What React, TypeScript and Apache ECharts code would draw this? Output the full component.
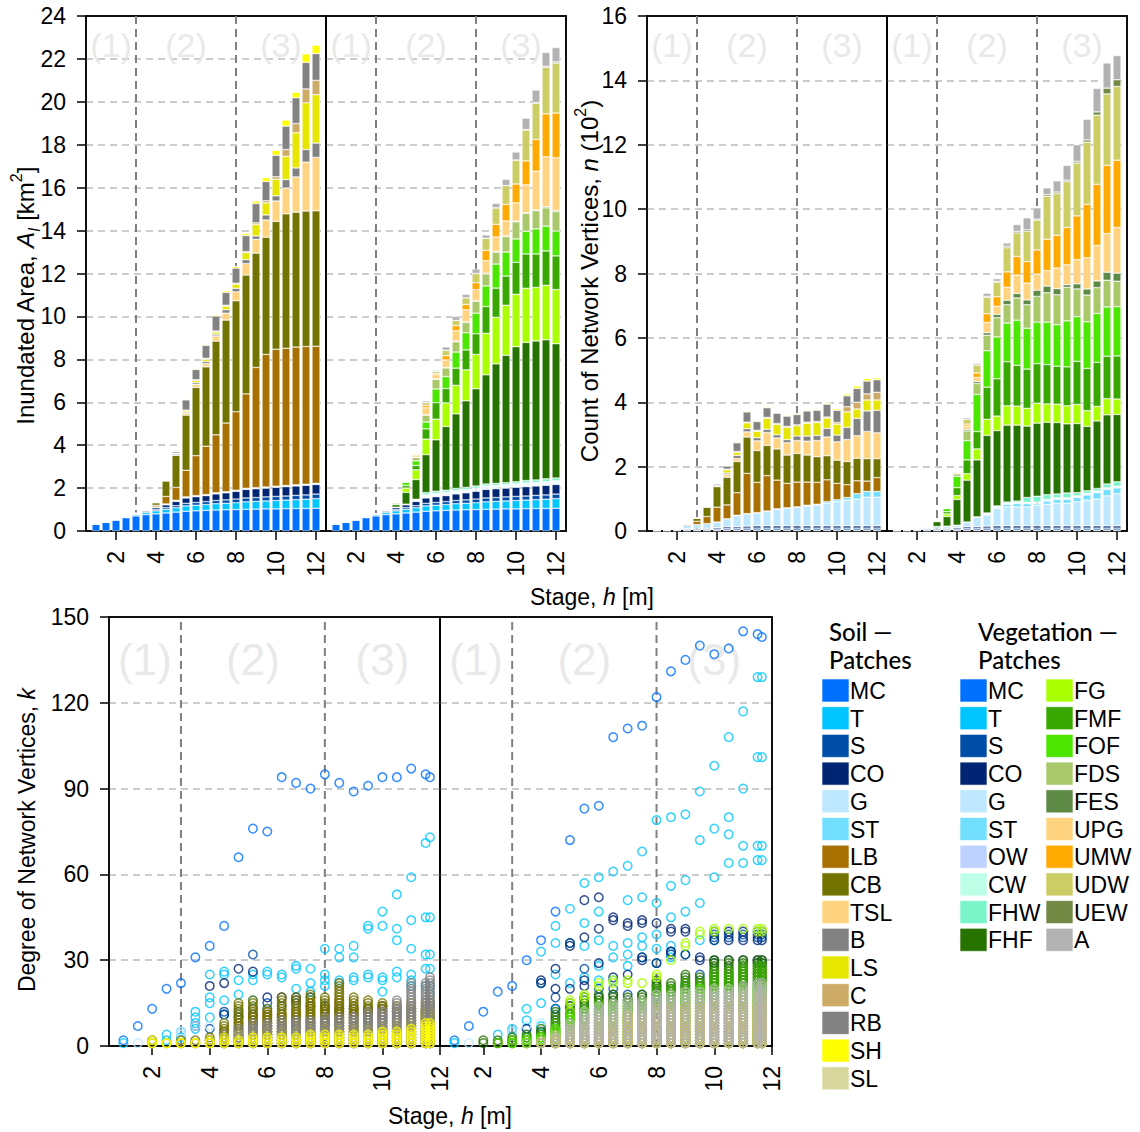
import React, { useEffect, useRef } from "react";
import * as echarts from "echarts";

// ---------------- DATA ----------------
const barStages = [1, 1.5, 2, 2.5, 3, 3.5, 4, 4.5, 5, 5.5, 6, 6.5, 7, 7.5, 8, 8.5, 9, 9.5, 10, 10.5, 11, 11.5, 12];
const scatterStages = [1, 1.5, 2, 2.5, 3, 3.5, 4, 4.5, 5, 5.5, 6, 6.5, 7, 7.5, 8, 8.5, 9, 9.5, 10, 10.5, 11, 11.5, 11.65];
const stageTicks = [2, 4, 6, 8, 10, 12];
const regionBounds = [3, 8];
const regionNames = ["(1)", "(2)", "(3)"];

const soilCats = ["MC", "T", "S", "CO", "G", "ST", "LB", "CB", "TSL", "B", "LS", "C", "RB", "SH", "SL"];
const soilColors = ["#0070FF", "#00C5FF", "#004DA8", "#002673", "#BEE8FF", "#73DFFF", "#A87000", "#737300", "#FFD37F", "#828282", "#E6E600", "#CDAA66", "#828282", "#FFFF00", "#D7D79E"];
const vegCats = ["MC", "T", "S", "CO", "G", "ST", "OW", "CW", "FHW", "FHF", "FG", "FMF", "FOF", "FDS", "FES", "UPG", "UMW", "UDW", "UEW", "A"];
const vegColors = ["#0070FF", "#00C5FF", "#004DA8", "#002673", "#BEE8FF", "#73DFFF", "#BED2FF", "#BEFFE8", "#7AF5CA", "#267300", "#AAFF00", "#38A800", "#4CE600", "#A8C86A", "#5C8944", "#FFD37F", "#FFAA00", "#CDCD66", "#728944", "#B2B2B2"];

// Inundated area [km2] – water classes (shared by both panels)
const areaMC = [0.32, 0.42, 0.53, 0.62, 0.7, 0.76, 0.8, 0.84, 0.88, 0.92, 0.94, 0.96, 0.98, 0.99, 1.0, 1.01, 1.02, 1.03, 1.03, 1.04, 1.05, 1.05, 1.06];
const areaT = [0, 0, 0, 0.03, 0.06, 0.1, 0.14, 0.17, 0.2, 0.25, 0.26, 0.27, 0.29, 0.3, 0.32, 0.35, 0.36, 0.37, 0.39, 0.4, 0.41, 0.43, 0.45];
const areaS = [0, 0, 0, 0, 0.02, 0.04, 0.06, 0.08, 0.1, 0.12, 0.13, 0.14, 0.15, 0.16, 0.17, 0.18, 0.18, 0.19, 0.19, 0.19, 0.2, 0.2, 0.21];
const areaCO = [0, 0, 0, 0.01, 0.02, 0.05, 0.09, 0.13, 0.2, 0.25, 0.27, 0.28, 0.31, 0.33, 0.36, 0.4, 0.41, 0.41, 0.43, 0.44, 0.44, 0.45, 0.45];
// soil area
const areaSoilG = [0, 0, 0, 0, 0.01, 0.02, 0.02, 0.02, 0.03, 0.03, 0.03, 0.03, 0.03, 0.03, 0.03, 0.03, 0.03, 0.03, 0.03, 0.03, 0.03, 0.03, 0.03];
const areaSoilST = [0, 0, 0, 0, 0.01, 0.01, 0.01, 0.02, 0.02, 0.02, 0.02, 0.02, 0.02, 0.02, 0.02, 0.02, 0.02, 0.02, 0.02, 0.02, 0.02, 0.02, 0.02];
const areaSoilLB = [0, 0, 0, 0, 0, 0.03, 0.08, 0.35, 0.6, 1.24, 1.86, 2.25, 2.7, 3.2, 3.66, 4.4, 5.6, 6.18, 6.38, 6.4, 6.42, 6.42, 6.39];
const areaSoilCB = [0, 0, 0, 0, 0, 0.02, 0.12, 0.72, 1.5, 2.57, 3.18, 3.7, 4.37, 4.8, 5.17, 5.54, 5.33, 5.46, 5.96, 6.26, 6.29, 6.31, 6.31];
const areaSoilTSL = [0, 0, 0, 0, 0, 0, 0, 0.02, 0.02, 0.1, 0.15, 0.15, 0.24, 0.32, 0.42, 0.53, 0.64, 0.8, 0.95, 1.2, 1.64, 2.28, 2.49];
const areaSoilB = [0, 0, 0, 0, 0, 0, 0.01, 0.02, 0.05, 0.05, 0.08, 0.1, 0.08, 0.16, 0.16, 0.19, 0.16, 0.24, 0.24, 0.4, 0.42, 0.59, 0.67];
const areaSoilLS = [0, 0, 0, 0, 0, 0, 0, 0.02, 0.02, 0.08, 0.1, 0.1, 0.1, 0.16, 0.19, 0.32, 0.53, 0.56, 0.77, 1.08, 1.64, 2.18, 2.25];
const areaSoilC = [0, 0, 0, 0, 0, 0, 0, 0, 0, 0, 0.03, 0.05, 0.05, 0.05, 0.05, 0.05, 0.08, 0.1, 0.12, 0.32, 0.43, 0.64, 0.67];
const areaSoilRB = [0, 0, 0, 0, 0, 0, 0, 0.02, 0.08, 0.48, 0.48, 0.6, 0.7, 0.6, 0.7, 0.75, 0.9, 0.9, 1.0, 1.09, 1.2, 1.24, 1.25];
const areaSoilSH = [0, 0, 0, 0, 0, 0, 0, 0, 0, 0.03, 0.04, 0.05, 0.06, 0.08, 0.08, 0.1, 0.12, 0.18, 0.24, 0.29, 0.26, 0.4, 0.4];
const areaSoilSL = [0, 0, 0, 0, 0, 0, 0, 0, 0, 0, 0, 0, 0, 0, 0, 0, 0, 0, 0, 0, 0, 0, 0];
// vegetation area
const areaVegG = [0, 0, 0, 0, 0.01, 0.01, 0.01, 0.02, 0.03, 0.05, 0.05, 0.05, 0.05, 0.05, 0.05, 0.05, 0.05, 0.05, 0.05, 0.05, 0.05, 0.05, 0.05];
const areaVegST = [0, 0, 0, 0, 0, 0.01, 0.01, 0.01, 0.02, 0.03, 0.03, 0.03, 0.03, 0.03, 0.03, 0.03, 0.03, 0.03, 0.03, 0.03, 0.03, 0.03, 0.03];
const areaVegOW = [0, 0, 0, 0, 0, 0, 0, 0, 0.02, 0.04, 0.04, 0.04, 0.04, 0.04, 0.04, 0.04, 0.04, 0.04, 0.04, 0.05, 0.05, 0.05, 0.05];
const areaVegCW = [0, 0, 0, 0, 0, 0, 0, 0, 0.01, 0.03, 0.03, 0.03, 0.03, 0.03, 0.03, 0.03, 0.03, 0.03, 0.03, 0.03, 0.03, 0.04, 0.04];
const areaVegFHW = [0, 0, 0, 0, 0, 0, 0, 0, 0.02, 0.1, 0.1, 0.1, 0.1, 0.1, 0.1, 0.1, 0.1, 0.1, 0.1, 0.12, 0.12, 0.13, 0.13];
const areaVegFHF = [0, 0, 0, 0, 0, 0.05, 0.12, 0.55, 0.92, 1.77, 2.4, 2.97, 3.48, 4.04, 4.53, 5.09, 5.57, 5.94, 6.3, 6.44, 6.48, 6.48, 6.26];
const areaVegFG = [0, 0, 0, 0, 0, 0.02, 0.04, 0.2, 0.45, 0.72, 0.96, 1.1, 1.33, 1.44, 1.6, 1.93, 2.17, 2.33, 2.44, 2.52, 2.49, 2.54, 2.52];
const areaVegFMF = [0, 0, 0, 0, 0, 0, 0.04, 0.12, 0.2, 0.48, 0.77, 0.67, 0.8, 0.93, 0.96, 1.25, 1.36, 1.36, 1.49, 1.6, 1.56, 1.6, 1.57];
const areaVegFOF = [0, 0, 0, 0, 0, 0, 0.03, 0.15, 0.22, 0.32, 0.64, 0.56, 0.75, 0.8, 0.96, 0.96, 1.12, 1.12, 1.09, 1.06, 1.17, 1.16, 1.16];
const areaVegFDS = [0, 0, 0, 0, 0, 0, 0, 0.04, 0.16, 0.32, 0.45, 0.4, 0.48, 0.48, 0.56, 0.56, 0.56, 0.72, 0.8, 0.83, 0.85, 0.85, 0.9];
const areaVegFES = [0, 0, 0, 0, 0, 0, 0, 0, 0.01, 0.02, 0.02, 0.02, 0.03, 0.03, 0.03, 0.03, 0.03, 0.03, 0.03, 0.03, 0.03, 0.05, 0.05];
const areaVegUPG = [0, 0, 0, 0, 0, 0, 0, 0.02, 0.1, 0.32, 0.2, 0.35, 0.48, 0.56, 0.51, 0.59, 0.67, 0.7, 0.85, 1.3, 1.81, 2.33, 2.46];
const areaVegUMW = [0, 0, 0, 0, 0, 0, 0, 0, 0.04, 0.11, 0.05, 0.2, 0.24, 0.24, 0.32, 0.48, 0.59, 0.77, 0.88, 1.12, 1.48, 2.0, 2.09];
const areaVegUDW = [0, 0, 0, 0, 0, 0, 0, 0, 0.04, 0.13, 0.1, 0.25, 0.24, 0.32, 0.43, 0.56, 0.77, 0.88, 1.12, 1.44, 1.69, 2.17, 2.33];
const areaVegUEW = [0, 0, 0, 0, 0, 0, 0, 0, 0, 0, 0, 0, 0, 0, 0, 0, 0, 0, 0, 0.02, 0.03, 0.05, 0.05];
const areaVegA = [0, 0, 0, 0, 0, 0, 0, 0, 0.02, 0.08, 0.05, 0.16, 0.19, 0.16, 0.21, 0.16, 0.21, 0.29, 0.37, 0.53, 0.58, 0.64, 0.67];

// Count of network vertices [10^2] – water classes (shared)
const countMC = [0.01, 0.01, 0.01, 0.01, 0.01, 0.01, 0.01, 0.02, 0.02, 0.02, 0.02, 0.02, 0.02, 0.02, 0.02, 0.02, 0.02, 0.02, 0.02, 0.02, 0.02, 0.02, 0.02];
const countT = [0, 0, 0.01, 0.01, 0.01, 0.01, 0.01, 0.01, 0.01, 0.01, 0.01, 0.01, 0.01, 0.01, 0.01, 0.01, 0.01, 0.01, 0.01, 0.01, 0.01, 0.01, 0.01];
const countS = [0, 0.01, 0.02, 0.03, 0.03, 0.03, 0.04, 0.05, 0.05, 0.06, 0.06, 0.06, 0.06, 0.06, 0.06, 0.06, 0.06, 0.06, 0.06, 0.06, 0.06, 0.06, 0.06];
const countCO = [0, 0, 0.01, 0.02, 0.03, 0.03, 0.04, 0.05, 0.05, 0.06, 0.07, 0.07, 0.07, 0.07, 0.07, 0.07, 0.07, 0.07, 0.07, 0.07, 0.07, 0.07, 0.07];
// soil count
const countSoilG = [0.02, 0.03, 0.05, 0.1, 0.12, 0.15, 0.18, 0.25, 0.35, 0.38, 0.4, 0.45, 0.52, 0.55, 0.58, 0.62, 0.65, 0.7, 0.75, 0.8, 0.83, 0.89, 0.89];
const countSoilST = [0, 0, 0, 0, 0, 0, 0, 0, 0.01, 0.01, 0.01, 0.01, 0.01, 0.01, 0.01, 0.02, 0.02, 0.05, 0.06, 0.08, 0.17, 0.18, 0.18];
const countSoilLB = [0, 0, 0, 0, 0.1, 0.22, 0.46, 0.43, 0.7, 1.25, 0.94, 1.1, 0.89, 0.76, 0.77, 0.72, 0.68, 0.68, 0.51, 0.4, 0.4, 0.32, 0.43];
const countSoilCB = [0, 0, 0, 0.04, 0.1, 0.3, 0.64, 0.86, 0.97, 1.13, 0.99, 0.94, 0.97, 0.88, 0.89, 0.84, 0.8, 0.75, 0.72, 0.72, 0.7, 0.7, 0.59];
const countSoilTSL = [0, 0, 0, 0, 0, 0, 0.02, 0.08, 0.09, 0.16, 0.3, 0.4, 0.34, 0.38, 0.4, 0.43, 0.5, 0.58, 0.57, 0.68, 0.7, 0.84, 0.8];
const countSoilB = [0, 0, 0, 0, 0, 0, 0, 0.05, 0.1, 0.1, 0.1, 0.1, 0.1, 0.1, 0.14, 0.16, 0.16, 0.27, 0.21, 0.38, 0.54, 0.64, 0.7];
const countSoilLS = [0, 0, 0, 0, 0, 0, 0.01, 0.1, 0.1, 0.18, 0.2, 0.34, 0.32, 0.38, 0.32, 0.4, 0.4, 0.32, 0.34, 0.48, 0.29, 0.34, 0.32];
const countSoilC = [0, 0, 0, 0, 0, 0, 0, 0.02, 0.02, 0.02, 0.03, 0.03, 0.03, 0.03, 0.03, 0.03, 0.03, 0.03, 0.05, 0.16, 0.21, 0.19, 0.24];
const countSoilRB = [0, 0, 0, 0, 0, 0.02, 0.05, 0.1, 0.27, 0.32, 0.27, 0.3, 0.32, 0.32, 0.32, 0.35, 0.35, 0.4, 0.38, 0.34, 0.43, 0.4, 0.39];
const countSoilSH = [0, 0, 0, 0, 0, 0, 0.01, 0.02, 0.03, 0.03, 0.03, 0.03, 0.03, 0.03, 0.03, 0.03, 0.03, 0.04, 0.05, 0.06, 0.08, 0.08, 0.06];
const countSoilSL = [0, 0, 0, 0, 0, 0, 0, 0, 0, 0, 0, 0, 0, 0, 0, 0, 0, 0, 0, 0, 0, 0, 0];
// vegetation count
const countVegG = [0.01, 0.03, 0.05, 0.05, 0.06, 0.07, 0.08, 0.15, 0.3, 0.35, 0.54, 0.59, 0.59, 0.59, 0.64, 0.67, 0.7, 0.7, 0.75, 0.8, 0.83, 0.93, 1.0];
const countVegST = [0, 0, 0, 0, 0, 0, 0, 0, 0.01, 0.02, 0.02, 0.08, 0.1, 0.1, 0.05, 0.1, 0.12, 0.12, 0.13, 0.16, 0.2, 0.2, 0.18];
const countVegOW = [0, 0, 0, 0, 0, 0, 0, 0, 0, 0.01, 0.02, 0.02, 0.02, 0.03, 0.03, 0.03, 0.03, 0.03, 0.03, 0.03, 0.03, 0.03, 0.03];
const countVegCW = [0, 0, 0, 0, 0, 0, 0, 0, 0, 0.01, 0.01, 0.01, 0.01, 0.01, 0.02, 0.02, 0.02, 0.02, 0.02, 0.02, 0.02, 0.02, 0.02];
const countVegFHW = [0, 0, 0, 0, 0, 0, 0, 0, 0, 0.02, 0.03, 0.04, 0.05, 0.15, 0.18, 0.15, 0.12, 0.15, 0.1, 0.08, 0.08, 0.12, 0.14];
const countVegFHF = [0, 0, 0, 0.04, 0.15, 0.3, 0.8, 1.3, 1.77, 2.41, 2.34, 2.39, 2.36, 2.22, 2.27, 2.25, 2.22, 2.15, 2.15, 2.0, 2.1, 2.15, 2.09];
const countVegFG = [0, 0, 0, 0, 0.03, 0.08, 0.12, 0.2, 0.34, 0.5, 0.45, 0.6, 0.59, 0.55, 0.62, 0.57, 0.57, 0.56, 0.59, 0.49, 0.45, 0.5, 0.48];
const countVegFMF = [0, 0, 0, 0, 0.02, 0.07, 0.25, 0.43, 0.54, 1.0, 1.16, 1.37, 1.27, 1.22, 1.23, 1.22, 1.18, 1.21, 1.34, 1.31, 1.37, 1.32, 1.34];
const countVegFOF = [0, 0, 0, 0, 0, 0.1, 0.35, 0.6, 1.15, 1.13, 1.3, 1.2, 1.4, 1.27, 1.29, 1.32, 1.29, 1.43, 1.39, 1.45, 1.52, 1.53, 1.53];
const countVegFDS = [0, 0, 0, 0, 0, 0, 0.08, 0.3, 0.34, 0.48, 0.6, 0.57, 0.69, 0.73, 0.8, 0.91, 0.93, 1.04, 0.86, 0.83, 0.8, 0.83, 0.79];
const countVegFES = [0, 0, 0, 0, 0, 0, 0, 0.05, 0.06, 0.08, 0.1, 0.14, 0.14, 0.15, 0.19, 0.21, 0.19, 0.08, 0.16, 0.19, 0.21, 0.25, 0.25];
const countVegUPG = [0, 0, 0, 0, 0, 0, 0.03, 0.1, 0.13, 0.32, 0.25, 0.4, 0.57, 0.52, 0.5, 0.48, 0.64, 0.62, 0.75, 0.97, 1.1, 1.2, 1.42];
const countVegUMW = [0, 0, 0, 0, 0, 0, 0, 0.06, 0.14, 0.27, 0.3, 0.48, 0.58, 0.67, 0.75, 0.97, 1.02, 1.16, 1.36, 1.66, 1.9, 2.12, 2.09];
const countVegUDW = [0, 0, 0, 0, 0, 0, 0.03, 0.15, 0.25, 0.51, 0.45, 0.75, 0.73, 0.94, 0.93, 1.34, 1.29, 1.42, 1.64, 1.93, 2.15, 2.22, 2.29];
const countVegUEW = [0, 0, 0, 0, 0, 0, 0, 0, 0, 0.03, 0.03, 0.05, 0.05, 0.05, 0.03, 0.05, 0.05, 0.05, 0.05, 0.07, 0.1, 0.18, 0.21];
const countVegA = [0, 0, 0, 0, 0, 0, 0, 0.05, 0.05, 0.1, 0.08, 0.1, 0.21, 0.37, 0.35, 0.21, 0.35, 0.46, 0.52, 0.64, 0.73, 0.78, 0.75];

// Degree of network vertices – soil patches
const degSoilMC = [2, 7, 13, 20, 22, 31, 35, 42, 66, 76, 75, 94, 92, 90, 95, 92, 89, 91, 94, 94, 97, 95, 94];
const degSoilT = [[1], [], [1], [4, 2], [5, 3], [12, 10, 8, 6], [25, 17, 15, 10], [26, 25, 16, 11], [23, 18, 11], [25, 23, 16], [26, 25, 13], [25, 24], [28, 27, 20], [27, 22, 19], [34, 25, 23, 21], [34, 31, 23, 22], [35, 31, 24, 23], [42, 41, 25, 24], [47, 42, 24, 23, 19], [53, 41, 37, 26, 24], [59, 44, 34, 25, 23, 21], [71, 45, 32, 27, 21], [73, 45, 32, 27, 21, 18]];
const degSoilS = [[], [], [], [], [], [], [6], [12], [12], [32, 13], [15], [14], [15], [14], [13], [12], [11], [12], [13], [12], [12], [12], [12]];
const degSoilCO = [[], [], [], [], [], [7], [21], [22, 11], [27, 10], [26, 11], [17], [17], [17, 16], [17], [14], [13], [13], [13], [14], [12], [13], [12], [12]];
const degSoilG = [[], [1], [], [], [5, 4], [7], [7], [8], [], [], [], [], [], [], [], [], [], [], [], [], [], [], []];
const maxSoilLB = [0, 0, 0, 0, 1, 1, 2, 5, 8, 10, 12, 11, 12, 15, 13, 16, 14, 13, 14, 14, 12, 12, 13];
const maxSoilCB = [0, 0, 2, 1, 2, 2, 3, 8, 15, 16, 13, 17, 17, 18, 17, 22, 17, 16, 15, 14, 15, 14, 15];
const maxSoilTSL = [0, 0, 0, 0, 0, 0, 0, 0, 1, 2, 2, 3, 3, 4, 4, 6, 8, 8, 10, 14, 15, 16, 16];
const maxSoilB = [0, 0, 0, 0, 0, 0, 2, 4, 6, 6, 7, 7, 8, 8, 8, 9, 10, 10, 12, 16, 22, 22, 24];
const maxSoilLS = [0, 0, 2, 1, 1, 1, 2, 3, 4, 4, 5, 5, 5, 6, 6, 6, 6, 6, 7, 8, 8, 12, 12];
const maxSoilC = [0, 0, 0, 0, 0, 0, 0, 0, 0, 0, 1, 1, 1, 1, 1, 1, 2, 2, 3, 4, 4, 5, 5];
const maxSoilRB = [0, 0, 0, 0, 0, 0, 0, 2, 4, 8, 8, 9, 9, 9, 10, 10, 10, 12, 12, 13, 14, 15, 15];
const maxSoilSH = [0, 0, 1, 1, 1, 1, 1, 2, 2, 3, 3, 3, 3, 4, 4, 4, 4, 4, 5, 5, 6, 8, 8];

// Degree of network vertices – vegetation patches
const degVegMC = [2, 7, 12, 19, 21, 30, 37, 47, 72, 83, 84, 108, 111, 112, 122, 131, 135, 140, 137, 139, 145, 144, 143];
const degVegT = [[1], [], [], [4], [6, 5], [13, 9, 6], [33, 22, 15, 7], [42, 36, 25, 13], [48, 36, 22, 11], [57, 43, 35, 24], [59, 47, 37, 28, 23], [61, 35, 31, 23], [63, 51, 36, 32, 28], [68, 52, 38, 35, 31], [79, 50, 39, 34, 29], [80, 56, 45, 35, 31], [81, 58, 47, 32], [89, 72, 50, 37], [98, 76, 59, 37], [108, 80, 74, 64], [117, 90, 70, 64], [129, 101, 70, 65], [129, 101, 70, 65]];
const degVegS = [[], [], [], [], [], [], [5], [17, 13], [14, 12], [27, 17], [20, 17], [20, 18], [18, 16], [18], [21, 18], [33, 32], [21], [25], [39, 38], [39, 38], [39, 38], [39, 38], [39, 38]];
const degVegCO = [[], [], [], [], [], [6], [23, 22], [27, 20], [36, 35, 20], [51, 38, 23, 21], [52, 41, 29], [45, 44, 24], [43, 42, 25], [44, 43, 31, 30], [43, 29], [41, 40, 33], [41, 40, 32], [31, 30], [40, 37, 30, 29], [40, 37, 30], [40, 37, 30], [40, 37, 30, 29], [40, 37, 30, 29]];
const degVegG = [[], [1], [], [], [5], [7], [8], [9], [], [], [], [], [], [], [], [], [], [], [], [], [], [], []];
const degVegFG = [[], [], [], [], [], [], [], [], [16, 15], [18, 17], [22, 21], [23, 22], [23, 22], [22], [25, 24], [30], [36, 35], [40, 39], [41, 40], [41], [41], [41, 40], [41, 40]];
const maxVegFHF = [0, 0, 2, 2, 3, 4, 6, 12, 15, 17, 18, 18, 17, 18, 23, 22, 25, 24, 30, 30, 30, 30, 30];
const maxVegFG = [0, 0, 0, 1, 2, 2, 3, 6, 12, 12, 14, 14, 14, 15, 16, 16, 18, 18, 20, 20, 20, 20, 20];
const maxVegFMF = [0, 0, 0, 1, 2, 3, 4, 8, 11, 13, 15, 15, 16, 16, 20, 20, 22, 22, 26, 26, 28, 28, 28];
const maxVegFOF = [0, 0, 0, 0, 1, 2, 3, 6, 10, 12, 14, 14, 14, 15, 18, 18, 19, 20, 20, 20, 20, 21, 21];
const maxVegFDS = [0, 0, 0, 0, 0, 1, 2, 4, 6, 8, 8, 9, 9, 10, 10, 11, 12, 12, 12, 12, 13, 13, 13];
const maxVegFES = [0, 0, 0, 0, 0, 0, 0, 2, 3, 4, 4, 5, 5, 5, 6, 6, 6, 6, 6, 7, 7, 7, 7];
const maxVegUPG = [0, 0, 0, 0, 0, 0, 1, 2, 3, 4, 5, 6, 6, 7, 8, 8, 8, 9, 9, 10, 10, 11, 11];
const maxVegUMW = [0, 0, 0, 0, 0, 0, 1, 2, 3, 4, 5, 6, 11, 9, 13, 13, 14, 14, 14, 14, 15, 15, 15];
const maxVegUDW = [0, 0, 0, 0, 0, 0, 1, 3, 6, 8, 10, 10, 11, 12, 13, 14, 14, 15, 16, 17, 18, 18, 18];
const maxVegA = [0, 0, 0, 0, 0, 0, 1, 3, 8, 12, 14, 15, 16, 16, 18, 18, 19, 19, 20, 20, 21, 22, 22];

// ---------------- HELPERS ----------------
const FONT = "Liberation Sans";
const TXT = 23;

const areaSoil: Record<string, number[]> = {
  MC: areaMC, T: areaT, S: areaS, CO: areaCO, G: areaSoilG, ST: areaSoilST, LB: areaSoilLB, CB: areaSoilCB,
  TSL: areaSoilTSL, B: areaSoilB, LS: areaSoilLS, C: areaSoilC, RB: areaSoilRB, SH: areaSoilSH, SL: areaSoilSL,
};
const areaVeg: Record<string, number[]> = {
  MC: areaMC, T: areaT, S: areaS, CO: areaCO, G: areaVegG, ST: areaVegST, OW: areaVegOW, CW: areaVegCW, FHW: areaVegFHW,
  FHF: areaVegFHF, FG: areaVegFG, FMF: areaVegFMF, FOF: areaVegFOF, FDS: areaVegFDS, FES: areaVegFES, UPG: areaVegUPG,
  UMW: areaVegUMW, UDW: areaVegUDW, UEW: areaVegUEW, A: areaVegA,
};
const countSoil: Record<string, number[]> = {
  MC: countMC, T: countT, S: countS, CO: countCO, G: countSoilG, ST: countSoilST, LB: countSoilLB, CB: countSoilCB,
  TSL: countSoilTSL, B: countSoilB, LS: countSoilLS, C: countSoilC, RB: countSoilRB, SH: countSoilSH, SL: countSoilSL,
};
const countVeg: Record<string, number[]> = {
  MC: countMC, T: countT, S: countS, CO: countCO, G: countVegG, ST: countVegST, OW: countVegOW, CW: countVegCW, FHW: countVegFHW,
  FHF: countVegFHF, FG: countVegFG, FMF: countVegFMF, FOF: countVegFOF, FDS: countVegFDS, FES: countVegFES, UPG: countVegUPG,
  UMW: countVegUMW, UDW: countVegUDW, UEW: countVegUEW, A: countVegA,
};

const single = (arr: number[]) => arr.map((k, i) => [scatterStages[i], k]);
const lists = (ls: number[][]) => ls.flatMap((l, i) => l.map((k) => [scatterStages[i], k]));
const cluster = (mx: number[]) => {
  const pts: number[][] = [];
  mx.forEach((m, i) => {
    for (let k = 1; k <= m; k++) pts.push([scatterStages[i], k]);
  });
  return pts;
};

const degSoil: Record<string, number[][]> = {
  MC: single(degSoilMC), T: lists(degSoilT), S: lists(degSoilS), CO: lists(degSoilCO), G: lists(degSoilG),
  LB: cluster(maxSoilLB), CB: cluster(maxSoilCB), TSL: cluster(maxSoilTSL), B: cluster(maxSoilB), LS: cluster(maxSoilLS),
  C: cluster(maxSoilC), RB: cluster(maxSoilRB), SH: cluster(maxSoilSH),
};
const degVeg: Record<string, number[][]> = {
  MC: single(degVegMC), T: lists(degVegT), S: lists(degVegS), CO: lists(degVegCO), G: lists(degVegG),
  FHF: cluster(maxVegFHF), FG: cluster(maxVegFG).concat(lists(degVegFG)), FMF: cluster(maxVegFMF), FOF: cluster(maxVegFOF),
  FDS: cluster(maxVegFDS), FES: cluster(maxVegFES), UPG: cluster(maxVegUPG), UMW: cluster(maxVegUMW), UDW: cluster(maxVegUDW),
  A: cluster(maxVegA),
};

const TOP_X = [barStages[0] - 0.5, barStages[barStages.length - 1] + 0.5];
const BOT_X = [0.5, 12];
const paddedStages = [TOP_X[0], ...barStages, TOP_X[1]];

const gridDefs = [
  { left: 86, top: 16, width: 240, height: 515 },
  { left: 326, top: 16, width: 240, height: 515 },
  { left: 647, top: 16, width: 240, height: 515 },
  { left: 887, top: 16, width: 240, height: 515 },
  { left: 109, top: 617, width: 331, height: 429 },
  { left: 440, top: 617, width: 332, height: 429 },
];

const blackLine = { color: "#000", width: 1.5 };

function valueX(gridIndex: number, ext: number[]) {
  return {
    type: "value", gridIndex, min: ext[0], max: ext[1], position: "bottom",
    axisLine: { show: true, onZero: false, lineStyle: blackLine },
    axisTick: { show: true, customValues: stageTicks, length: 9, lineStyle: blackLine },
    axisLabel: { show: true, customValues: stageTicks, rotate: 90, margin: 20, fontSize: TXT, color: "#000", fontFamily: FONT },
    splitLine: { show: false },
  };
}
// band axis used for the stacked bars; drawn only as the top frame line
function catX(gridIndex: number) {
  return {
    type: "category", gridIndex, data: paddedStages.map(String), boundaryGap: false, position: "top",
    axisLine: { show: true, onZero: false, lineStyle: blackLine },
    axisTick: { show: false }, axisLabel: { show: false }, splitLine: { show: false },
  };
}
function frameTopX(gridIndex: number, ext: number[]) {
  return {
    type: "value", gridIndex, min: ext[0], max: ext[1], position: "top",
    axisLine: { show: true, onZero: false, lineStyle: blackLine },
    axisTick: { show: false }, axisLabel: { show: false }, splitLine: { show: false },
  };
}
function valueY(gridIndex: number, max: number, interval: number, labels: boolean) {
  return {
    type: "value", gridIndex, min: 0, max, interval,
    axisLine: { show: true, onZero: false, lineStyle: blackLine },
    axisTick: { show: labels, length: 9, lineStyle: blackLine },
    axisLabel: { show: labels, margin: 20, fontSize: TXT, color: "#000", fontFamily: FONT },
    splitLine: { show: true, showMinLine: false, showMaxLine: false, lineStyle: { color: "#bcbcbc", width: 1.5, type: [7, 5] } },
  };
}
function frameRightY(gridIndex: number, max: number) {
  return {
    type: "value", gridIndex, min: 0, max, position: "right",
    axisLine: { show: true, onZero: false, lineStyle: blackLine },
    axisTick: { show: false }, axisLabel: { show: false }, splitLine: { show: false },
  };
}

function barSeriesFor(cats: string[], colors: string[], data: Record<string, number[]>, xi: number, yi: number, stack: string) {
  return cats.map((c, ci) => ({
    type: "bar", name: c, stack, xAxisIndex: xi, yAxisIndex: yi, barWidth: 8, silent: true, z: 2,
    itemStyle: { color: colors[ci], borderColor: "#fff", borderWidth: 0.5 },
    data: ["-", ...data[c], "-"],
  }));
}
function scatterSeriesFor(cats: string[], colors: string[], data: Record<string, number[][]>, xi: number, yi: number) {
  return cats
    .filter((c) => data[c])
    .map((c) => ({
      type: "scatter", name: c, xAxisIndex: xi, yAxisIndex: yi, symbol: "circle", symbolSize: 8.5, silent: true, z: 2,
      itemStyle: { color: "rgba(0,0,0,0)", borderColor: colors[cats.indexOf(c)], borderWidth: 1.5 },
      data: data[c],
    }));
}
function regionSeries(xi: number, yi: number, ymax: number, ext: number[], labelSize: number, labelFrac: number) {
  const lines = regionBounds.map((b) => ({
    type: "line", xAxisIndex: xi, yAxisIndex: yi, silent: true, z: 1, symbol: "none",
    lineStyle: { color: "#808080", width: 2, type: [8, 5] },
    data: [[b, 0], [b, ymax]],
  }));
  const edges = [ext[0], ...regionBounds, ext[1]];
  const labels = {
    type: "scatter", xAxisIndex: xi, yAxisIndex: yi, silent: true, z: 0, symbolSize: 1,
    itemStyle: { color: "rgba(0,0,0,0)" },
    label: { show: true, position: "inside", formatter: (p: any) => p.name, fontSize: labelSize, color: "#e4e4e4", fontFamily: FONT },
    data: regionNames.map((n, i) => ({ name: n, value: [(edges[i] + edges[i + 1]) / 2, ymax * labelFrac] })),
  };
  return [...lines, labels];
}

function makeRich(size: number) {
  const small = Math.round(size * 0.65);
  return {
    n: { fontSize: size, fontFamily: FONT, lineHeight: 34, verticalAlign: "middle", fill: "#000" },
    i: { fontSize: size, fontFamily: FONT, fontStyle: "italic", lineHeight: 34, verticalAlign: "middle", fill: "#000" },
    sub: { fontSize: small, fontFamily: FONT, fontStyle: "italic", lineHeight: small, verticalAlign: "bottom", fill: "#000" },
    sup: { fontSize: small, fontFamily: FONT, lineHeight: small, verticalAlign: "top", fill: "#000" },
  };
}
function titleText(text: string, x: number, y: number, vertical: boolean, size = TXT) {
  return {
    type: "text", x, y, rotation: vertical ? Math.PI / 2 : 0, silent: true,
    style: { text, rich: makeRich(size), align: "center", verticalAlign: "middle", fill: "#000", fontSize: size, fontFamily: FONT },
  };
}

function legendBlock(cats: string[], colors: string[], cols: { x: number; from: number; to: number }[]) {
  const els: any[] = [];
  cols.forEach((col) => {
    for (let i = col.from; i < col.to; i++) {
      const row = i - col.from;
      const y = 679 + row * 27.7;
      els.push({ type: "rect", x: col.x, y, shape: { width: 27, height: 23 }, style: { fill: colors[i], stroke: "rgba(255,255,255,0.6)", lineWidth: 1 }, silent: true });
      els.push({ type: "text", x: col.x + 28, y: y + 12, silent: true, style: { text: cats[i], fill: "#000", fontSize: TXT, fontFamily: FONT, align: "left", verticalAlign: "middle" } });
    }
  });
  return els;
}

export default function App() {
  const ref = useRef<HTMLDivElement>(null);
  useEffect(() => {
    if (!ref.current) return;
    const chart = echarts.init(ref.current, undefined, { renderer: "svg" });

    const xAxis = [
      catX(0), valueX(0, TOP_X),
      catX(1), valueX(1, TOP_X),
      catX(2), valueX(2, TOP_X),
      catX(3), valueX(3, TOP_X),
      valueX(4, BOT_X), valueX(5, BOT_X),
      frameTopX(4, BOT_X), frameTopX(5, BOT_X),
    ];
    const yAxis = [
      valueY(0, 24, 2, true), valueY(1, 24, 2, false),
      valueY(2, 16, 2, true), valueY(3, 16, 2, false),
      valueY(4, 150, 30, true), valueY(5, 150, 30, false),
      frameRightY(1, 24), frameRightY(3, 16), frameRightY(5, 150),
    ];

    const series: any[] = [
      ...regionSeries(1, 0, 24, TOP_X, 34, 0.944),
      ...regionSeries(3, 1, 24, TOP_X, 34, 0.944),
      ...regionSeries(5, 2, 16, TOP_X, 34, 0.944),
      ...regionSeries(7, 3, 16, TOP_X, 34, 0.944),
      ...regionSeries(8, 4, 150, BOT_X, 44, 0.9),
      ...regionSeries(9, 5, 150, BOT_X, 44, 0.9),
      ...barSeriesFor(soilCats, soilColors, areaSoil, 0, 0, "as"),
      ...barSeriesFor(vegCats, vegColors, areaVeg, 2, 1, "av"),
      ...barSeriesFor(soilCats, soilColors, countSoil, 4, 2, "cs"),
      ...barSeriesFor(vegCats, vegColors, countVeg, 6, 3, "cv"),
      ...scatterSeriesFor(soilCats, soilColors, degSoil, 8, 4),
      ...scatterSeriesFor(vegCats, vegColors, degVeg, 9, 5),
    ];

    const titleFont = { fill: "#000", fontSize: 24, fontFamily: "Lato", fontWeight: 500, align: "left", verticalAlign: "middle" };
    const graphics: any[] = [
      titleText("{n|Inundated Area, }{i|A}{sub|I}{n| [km}{sup|2}{n|]}", 25, 296, true, 24),
      titleText("{n|Count of Network Vertices, }{i|n}{n| (10}{sup|2}{n|)}", 589, 281, true, 24),
      titleText("{n|Degree of Network Vertices, }{i|k}", 27, 840, true),
      titleText("{n|Stage, }{i|h}{n| [m]}", 592, 597, false),
      titleText("{n|Stage, }{i|h}{n| [m]}", 450, 1116, false),
      { type: "text", x: 829, y: 631, silent: true, style: { ...titleFont, text: "Soil \u2014" } },
      { type: "text", x: 829, y: 659, silent: true, style: { ...titleFont, text: "Patches" } },
      { type: "text", x: 978, y: 631, silent: true, style: { ...titleFont, text: "Vegetation \u2014" } },
      { type: "text", x: 978, y: 659, silent: true, style: { ...titleFont, text: "Patches" } },
      ...legendBlock(soilCats, soilColors, [{ x: 822, from: 0, to: soilCats.length }]),
      ...legendBlock(vegCats, vegColors, [{ x: 960, from: 0, to: 10 }, { x: 1046, from: 10, to: 20 }]),
    ];

    chart.setOption({
      animation: false,
      backgroundColor: "#fff",
      grid: gridDefs.map((g) => ({ ...g, show: true, borderColor: "#000", borderWidth: 1.5, backgroundColor: "rgba(0,0,0,0)", containLabel: false, outerBoundsMode: "none" })),
      xAxis,
      yAxis,
      series,
      graphic: { elements: graphics },
    });
    return () => chart.dispose();
  }, []);

  return <div ref={ref} style={{ position: "fixed", left: 0, top: 0, width: 1140, height: 1132, background: "#fff" }} />;
}
